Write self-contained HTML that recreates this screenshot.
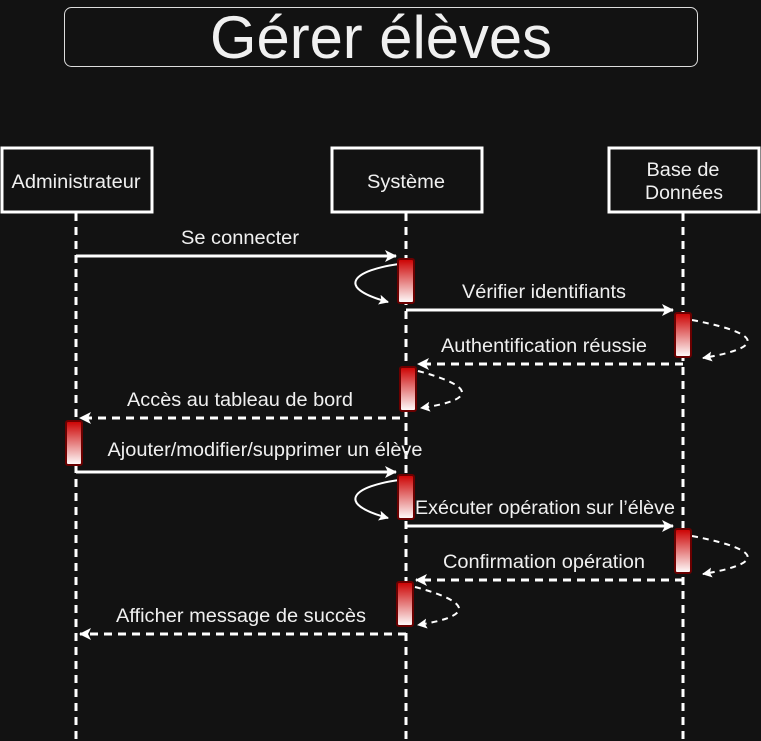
<!DOCTYPE html>
<html><head><meta charset="utf-8"><style>
html,body{margin:0;padding:0;background:#121212;}
svg{display:block}
text{font-family:"Liberation Sans",Arial,sans-serif;fill:#f0f0f0;}
</style></head><body>
<svg width="761" height="741" viewBox="0 0 761 741" xmlns="http://www.w3.org/2000/svg">
<defs>
<linearGradient id="g" x1="0" y1="0" x2="0" y2="1">
<stop offset="0" stop-color="#cc0000"/><stop offset="1" stop-color="#ffffff"/>
</linearGradient>
<marker id="a" markerWidth="10" markerHeight="10" refX="9" refY="5" orient="auto" markerUnits="userSpaceOnUse">
<path d="M0,0 L10,5 L0,10 L2,5 Z" fill="#fff"/>
</marker>
<marker id="b" markerWidth="12" markerHeight="12" refX="11" refY="6" orient="auto" markerUnits="userSpaceOnUse">
<path d="M0,0 L12,6 L0,12 L3,6 Z" fill="#fff"/>
</marker>
</defs>
<rect width="761" height="741" fill="#121212"/>
<rect x="64.5" y="7.5" width="633" height="59" rx="7" fill="none" stroke="#ddd" stroke-width="1"/>
<text x="381" y="58" font-size="60" text-anchor="middle" textLength="342" lengthAdjust="spacingAndGlyphs">Gérer élèves</text>

<g stroke="#fff" stroke-width="3" stroke-dasharray="8,6" fill="none">
<line x1="76" y1="213" x2="76" y2="741"/>
<line x1="406" y1="213" x2="406" y2="741"/>
<line x1="683" y1="213" x2="683" y2="741"/>
</g>
<g fill="#121212" stroke="#fff" stroke-width="3">
<rect x="2" y="148" width="150" height="64"/>
<rect x="332" y="148" width="150" height="64"/>
<rect x="609" y="148" width="150" height="64"/>
</g>
<g font-size="19" text-anchor="middle">
<text x="76" y="188" textLength="129" lengthAdjust="spacingAndGlyphs">Administrateur</text>
<text x="406" y="188" textLength="78" lengthAdjust="spacingAndGlyphs">Système</text>
<text x="683" y="176" textLength="73" lengthAdjust="spacingAndGlyphs">Base de</text>
<text x="684" y="199" textLength="78" lengthAdjust="spacingAndGlyphs">Données</text>
</g>

<g stroke="#fff" stroke-width="3" fill="none">
<line x1="76" y1="256" x2="396" y2="256" marker-end="url(#b)"/>
<line x1="406" y1="310" x2="673" y2="310" marker-end="url(#b)"/>
<line x1="76" y1="472" x2="396" y2="472" marker-end="url(#b)"/>
<line x1="406" y1="526" x2="673" y2="526" marker-end="url(#b)"/>
</g>
<g stroke="#fff" stroke-width="3" fill="none" stroke-dasharray="8,6">
<line x1="683" y1="364" x2="418" y2="364" marker-end="url(#b)"/>
<line x1="400" y1="418" x2="80" y2="418" marker-end="url(#b)"/>
<line x1="683" y1="580" x2="416" y2="580" marker-end="url(#b)"/>
<line x1="406" y1="634" x2="80" y2="634" marker-end="url(#b)"/>
</g>
<g stroke="#fff" stroke-width="2" fill="none">
<path d="M399,264 C355,270 333,287 388,302" marker-end="url(#a)"/>
<path d="M399,480 C355,486 333,503 388,518" marker-end="url(#a)"/>
</g>
<g stroke="#fff" stroke-width="2" fill="none" stroke-dasharray="6,5">
<path d="M692,320 C745,330 780,345 703,358" marker-end="url(#a)"/>
<path d="M418,371 C460,382 490,398 421,408" marker-end="url(#a)"/>
<path d="M692,536 C745,546 780,561 703,574" marker-end="url(#a)"/>
<path d="M415,587 C457,598 487,614 418,625" marker-end="url(#a)"/>
</g>
<g fill="url(#g)" stroke="#6b0000" stroke-width="2">
<rect x="398" y="259" width="16" height="44" rx="2"/>
<rect x="675" y="313" width="16" height="44" rx="2"/>
<rect x="400" y="367" width="16" height="44" rx="2"/>
<rect x="66" y="421" width="16" height="44" rx="2"/>
<rect x="398" y="475" width="16" height="44" rx="2"/>
<rect x="675" y="529" width="16" height="44" rx="2"/>
<rect x="397" y="582" width="16" height="44" rx="2"/>
</g>
<g font-size="19" text-anchor="middle">
<text x="240" y="244" textLength="118" lengthAdjust="spacingAndGlyphs">Se connecter</text>
<text x="544" y="298" textLength="164" lengthAdjust="spacingAndGlyphs">Vérifier identifiants</text>
<text x="544" y="352" textLength="206" lengthAdjust="spacingAndGlyphs">Authentification réussie</text>
<text x="240" y="406" textLength="226" lengthAdjust="spacingAndGlyphs">Accès au tableau de bord</text>
<text x="265" y="456" textLength="315" lengthAdjust="spacingAndGlyphs">Ajouter/modifier/supprimer un élève</text>
<text x="545" y="514" textLength="260" lengthAdjust="spacingAndGlyphs">Exécuter opération sur l’élève</text>
<text x="544" y="568" textLength="202" lengthAdjust="spacingAndGlyphs">Confirmation opération</text>
<text x="241" y="622" textLength="250" lengthAdjust="spacingAndGlyphs">Afficher message de succès</text>
</g>
</svg>
</body></html>
